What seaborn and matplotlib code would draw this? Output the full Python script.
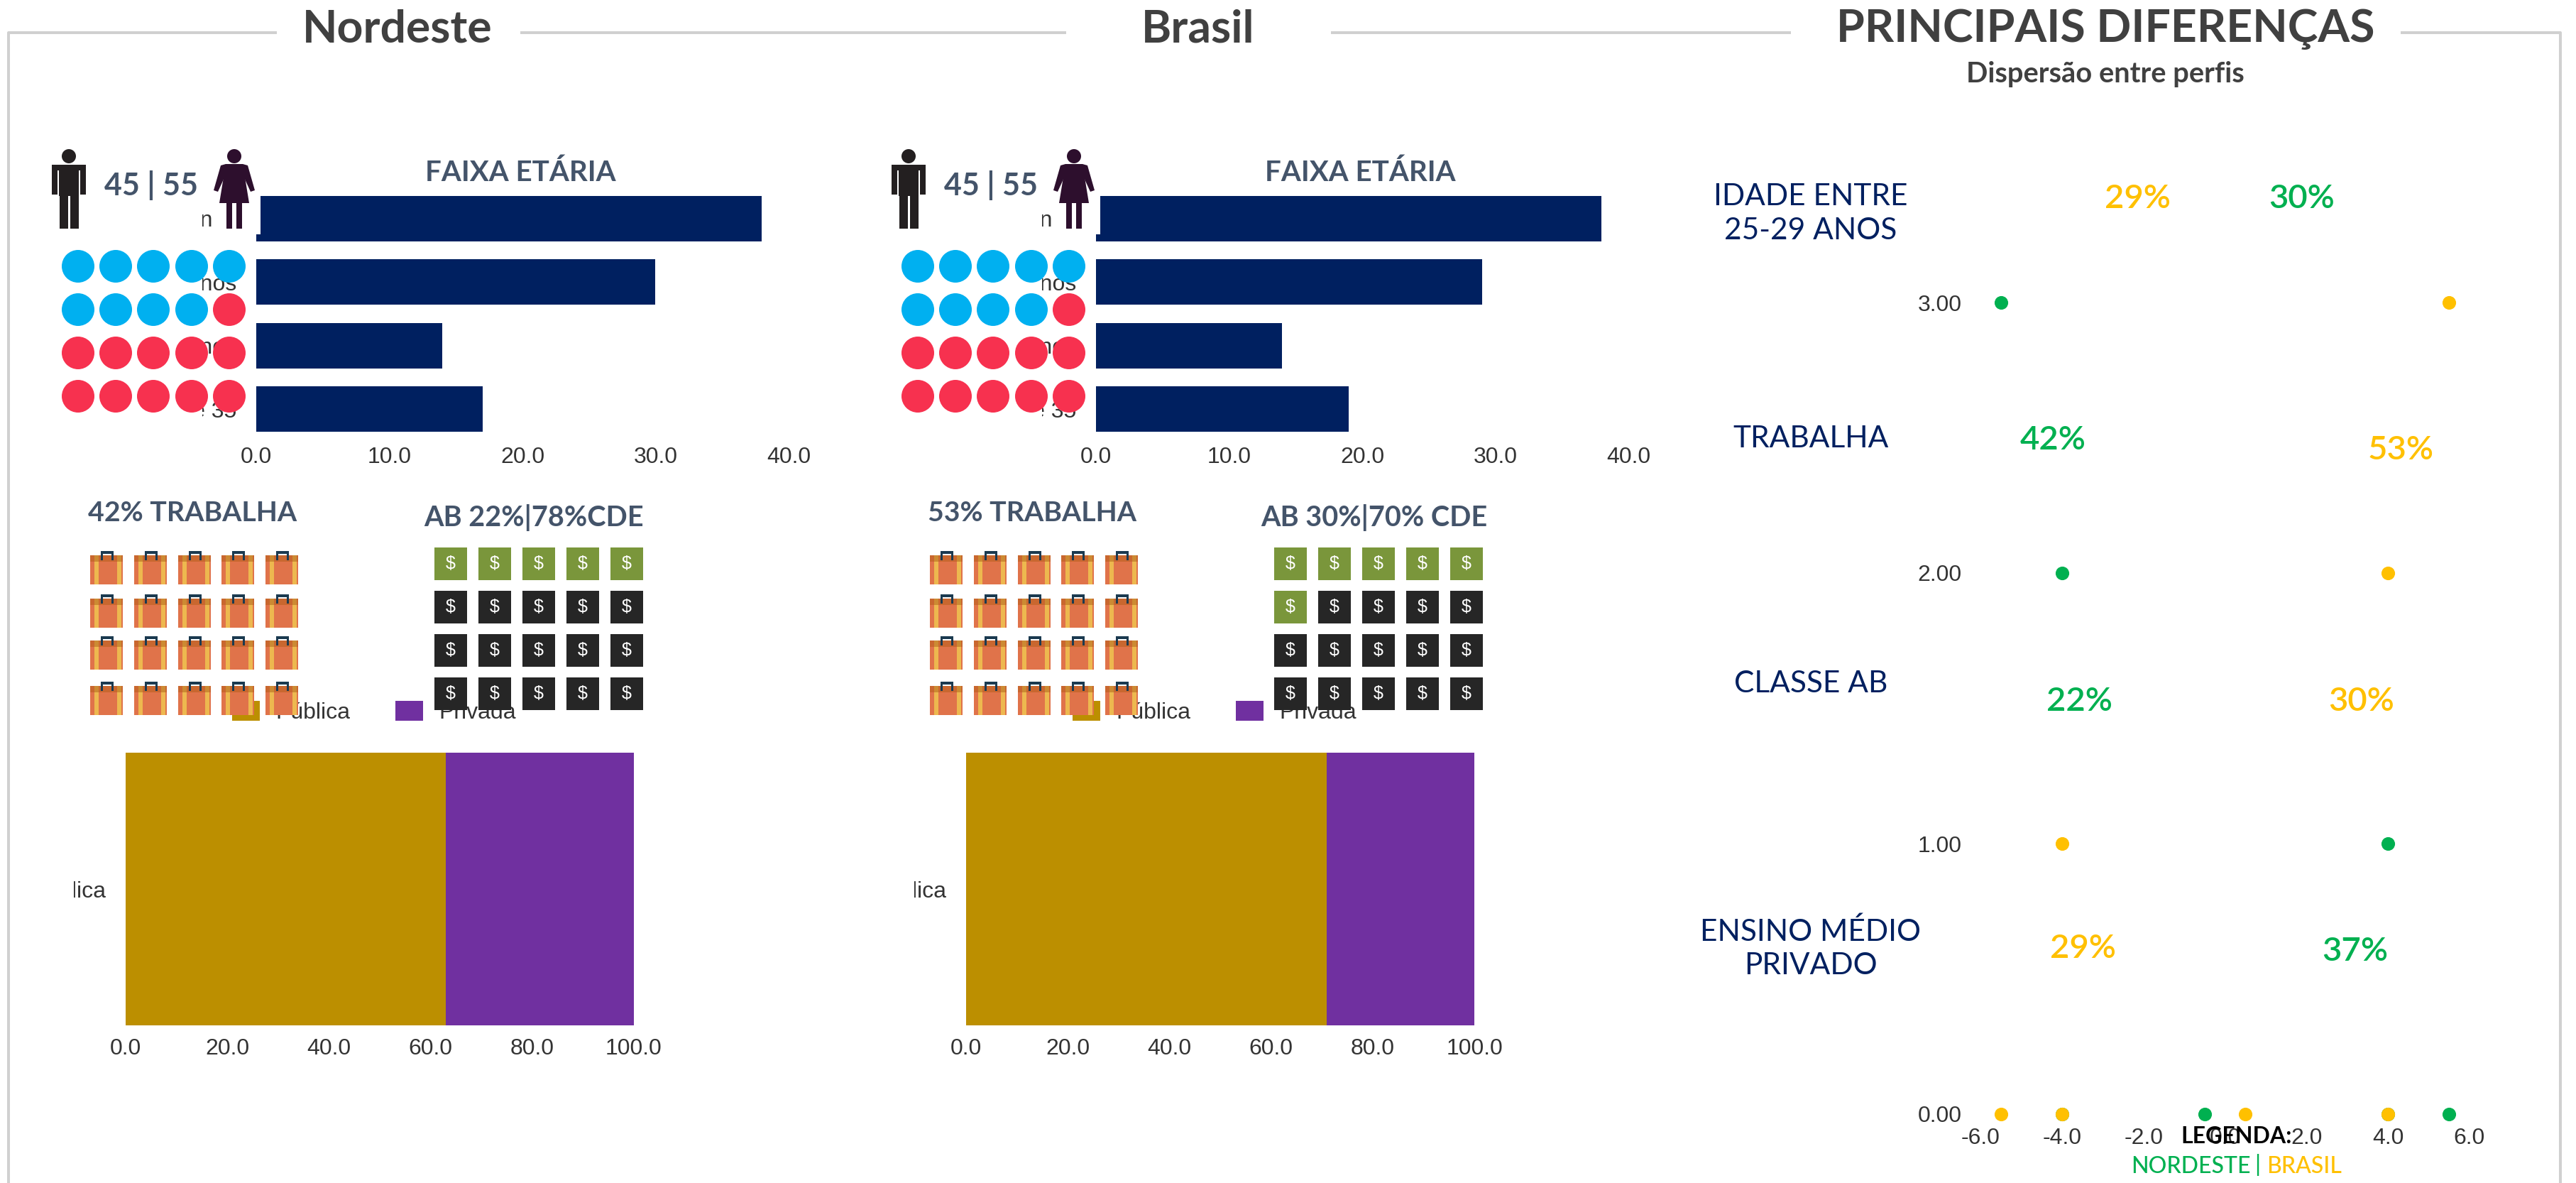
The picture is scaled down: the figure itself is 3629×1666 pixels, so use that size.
import matplotlib
matplotlib.use("Agg")
import matplotlib.pyplot as plt
import seaborn as sns
import pandas as pd
from matplotlib.patches import Circle, Rectangle, Polygon
from matplotlib.transforms import Bbox

W, H = 3630, 1666

# dados
faixas = ["18-24 anos", "25-29 anos", "30-35 anos", "Mais de 35"]
faixa_nordeste = [38, 30, 14, 17]
faixa_brasil = [38, 29, 14, 19]
escola_labels = ["Pública", "Privada"]
escola_nordeste = [63, 37]
escola_brasil = [71, 29]
homens_de_20 = 9
trabalha_de_20 = 20
ab_nordeste_de_20 = 5
ab_brasil_de_20 = 6

disp_y_nordeste = [3, 2, 1, 0, 0, 0, 0]
disp_x_nordeste = [-5.5, -4, 4, -4, -0.5, 4, 5.5]
disp_y_brasil = [3, 2, 1, 0, 0, 0, 0]
disp_x_brasil = [5.5, 4, -4, -5.5, -4, 0.5, 4]

NAVY = "#002060"
GOLD = "#BC8F00"
PURPLE = "#7030A0"
GREEN = "#00B050"
YELLOW = "#FFC000"
SLATE = "#44546A"
TITLE = "#404040"
TICK = "#333333"

sns.set_theme(style="white")
plt.rcParams["font.family"] = ["Liberation Sans", "DejaVu Sans"]

fig = plt.figure(figsize=(W / 100, H / 100), dpi=100, facecolor="white")


def px_axes(x0, y0, x1, y1, **kw):
    return fig.add_axes([x0 / W, 1 - y1 / H, (x1 - x0) / W, (y1 - y0) / H], **kw)


def clip_left(label, x_px):
    label.set_clip_on(True)
    label.set_clip_box(Bbox([[x_px, 0], [W, H]]))


def faixa_chart(dx, values):
    ax = px_axes(361 + dx, 263, 1111 + dx, 621)
    df = pd.DataFrame({"faixa": faixas, "pct": values})
    sns.barplot(data=df, y="faixa", x="pct", color=NAVY, saturation=1, width=0.72, linewidth=0, ax=ax)
    ax.set_xlim(0, 40)
    ax.set_ylim(3.5, -0.5)
    ax.set_xticks([0, 10, 20, 30, 40])
    ax.set_xticklabels(["0.0", "10.0", "20.0", "30.0", "40.0"])
    ax.set_xlabel("")
    ax.set_ylabel("")
    sns.despine(ax=ax, left=True, bottom=True)
    ax.tick_params(axis="both", length=0, labelsize=23, labelcolor=TICK)
    ax.tick_params(axis="x", pad=6)
    ax.tick_params(axis="y", pad=20)
    for lab in ax.get_yticklabels():
        clip_left(lab, 285 + dx)


def escola_chart(dx, values):
    ax = px_axes(177 + dx, 1060, 893 + dx, 1444)
    total = sum(values)
    sns.barplot(x=[total], y=[escola_labels[0]], color=PURPLE, saturation=1, width=1, linewidth=0, ax=ax, label=escola_labels[1])
    sns.barplot(x=[values[0]], y=[escola_labels[0]], color=GOLD, saturation=1, width=1, linewidth=0, ax=ax, label=escola_labels[0])
    ax.set_xlim(0, 100)
    ax.set_ylim(0.5, -0.5)
    ax.set_xticks([0, 20, 40, 60, 80, 100])
    ax.set_xticklabels(["0.0", "20.0", "40.0", "60.0", "80.0", "100.0"])
    ax.set_xlabel("")
    ax.set_ylabel("")
    sns.despine(ax=ax, left=True, bottom=True)
    ax.tick_params(axis="both", length=0, labelsize=23, labelcolor=TICK)
    ax.tick_params(axis="x", pad=13)
    ax.tick_params(axis="y", pad=20)
    for lab in ax.get_yticklabels():
        clip_left(lab, 104 + dx)
    handles, labels = ax.get_legend_handles_labels()
    ax.legend(handles[::-1], labels[::-1], ncol=2, frameon=False, fontsize=23,
              loc="center left", bbox_to_anchor=((327 - 177) / 716, 1 + 57 / 384),
              handlelength=1.22, handleheight=1.0, handletextpad=0.7, columnspacing=2.0,
              borderpad=0, borderaxespad=0, labelcolor=TICK)


faixa_chart(0, faixa_nordeste)
faixa_chart(1183, faixa_brasil)
escola_chart(0, escola_nordeste)
escola_chart(1184, escola_brasil)

# dispersao
ax = px_axes(2790, 426, 3479, 1569)
sns.scatterplot(x=disp_x_nordeste, y=disp_y_nordeste, color=GREEN, s=190, linewidth=0, ax=ax, clip_on=False)
sns.scatterplot(x=disp_x_brasil, y=disp_y_brasil, color=YELLOW, s=190, linewidth=0, ax=ax, clip_on=False)
ax.set_xlim(-6, 6)
ax.set_ylim(0, 3)
ax.set_xticks([-6, -4, -2, 0, 2, 4, 6])
ax.set_xticklabels(["-6.0", "-4.0", "-2.0", "0.0", "2.0", "4.0", "6.0"])
ax.set_yticks([0, 1, 2, 3])
ax.set_yticklabels(["0.00", "1.00", "2.00", "3.00"])
sns.despine(ax=ax, left=True, bottom=True)
ax.tick_params(axis="both", length=0, labelsize=23, labelcolor=TICK)
ax.tick_params(axis="x", pad=14)
ax.tick_params(axis="y", pad=19)

# camada de cima, em pixels
top = fig.add_axes([0, 0, 1, 1], zorder=10)
top.set_xlim(0, W)
top.set_ylim(H, 0)
top.axis("off")
top.patch.set_alpha(0)


def txt(x, y, s, size, color, weight="normal", **kw):
    top.text(x, y, s, fontsize=size, color=color, fontweight=weight, family=["Lato", "DejaVu Sans"],
             ha=kw.pop("ha", "center"), va=kw.pop("va", "center"), **kw)


def man(cx):
    c = "#231F20"
    top.add_patch(Circle((cx, 220), 10, color=c, lw=0))
    top.add_patch(Rectangle((cx - 24, 232), 48, 8, color=c, lw=0))
    top.add_patch(Rectangle((cx - 24, 234), 8, 40, color=c, lw=0))
    top.add_patch(Rectangle((cx + 16, 234), 8, 40, color=c, lw=0))
    top.add_patch(Rectangle((cx - 14, 234), 28, 42, color=c, lw=0))
    top.add_patch(Rectangle((cx - 13, 270), 12, 52, color=c, lw=0))
    top.add_patch(Rectangle((cx + 2, 270), 12, 52, color=c, lw=0))


def woman(cx):
    c = "#2D0F2D"
    top.add_patch(Rectangle((cx - 32, 205), 69, 125, color="white", lw=0))
    top.add_patch(Circle((cx, 220), 10, color=c, lw=0))
    top.add_patch(Polygon([(cx - 12, 231), (cx + 12, 231), (cx + 21, 286), (cx - 21, 286)], color=c, lw=0))
    top.add_patch(Polygon([(cx - 12, 231), (cx - 19, 233), (cx - 29, 268), (cx - 23, 270), (cx - 12, 246)], color=c, lw=0))
    top.add_patch(Polygon([(cx + 12, 231), (cx + 19, 233), (cx + 29, 268), (cx + 23, 270), (cx + 12, 246)], color=c, lw=0))
    top.add_patch(Rectangle((cx - 11, 286), 8, 36, color=c, lw=0))
    top.add_patch(Rectangle((cx + 3, 286), 8, 36, color=c, lw=0))


def pessoas(dx, homens):
    for r, y in enumerate([375, 436, 497, 558]):
        for c, x in enumerate([110, 163, 216, 270, 323]):
            cor = "#00B0F0" if r * 5 + c < homens else "#F7314F"
            top.add_patch(Circle((x + dx, y), 23, color=cor, lw=0))


def maleta(x, y):
    w = 46
    top.add_patch(Rectangle((x, y + 6), w, 41, color="#E0734A", lw=0))
    top.add_patch(Rectangle((x + 6, y + 6), 6, 41, color="#EDB84F", lw=0))
    top.add_patch(Rectangle((x + w - 8, y + 6), 6, 41, color="#EDB84F", lw=0))
    top.add_patch(Rectangle((x, y + 6), w, 9, color="#C9672F", lw=0))
    top.add_patch(Rectangle((x + 6, y + 6), 6, 9, color="#CC8A33", lw=0))
    top.add_patch(Rectangle((x + w - 8, y + 6), 6, 9, color="#CC8A33", lw=0))
    top.add_patch(Rectangle((x + 15, y), 18, 4, color="#1B3A50", lw=0))
    top.add_patch(Rectangle((x + 15, y), 3, 13, color="#1B3A50", lw=0))
    top.add_patch(Rectangle((x + 30, y), 3, 13, color="#1B3A50", lw=0))


def maletas(dx, n):
    for r, y in enumerate([776, 837, 896, 960]):
        for c, x in enumerate([127, 189, 251, 312, 374]):
            if r * 5 + c < n:
                maleta(x + dx, y)


def notas(dx, n):
    for r, y in enumerate([771, 832, 893, 954]):
        for c, x in enumerate([612, 674, 736, 798, 860]):
            cor = "#7A963B" if r * 5 + c < n else "#262626"
            top.add_patch(Rectangle((x + dx, y), 46, 46, color=cor, lw=0))
            top.text(x + dx + 23, y + 23, "$", color="white", fontsize=18, ha="center", va="center", family="Liberation Sans")


for dx, faixa_x, n_ab, trab, ab, ab_x in [(0, 733, ab_nordeste_de_20, "42% TRABALHA", "AB 22%|78%CDE", 752),
                                          (1183, 1916, ab_brasil_de_20, "53% TRABALHA", "AB 30%|70% CDE", 1936)]:
    man(97 + dx)
    woman(330 + dx)
    pessoas(dx, homens_de_20)
    maletas(dx, trabalha_de_20)
    notas(dx, n_ab)
    txt(faixa_x, 243, "FAIXA ETÁRIA", 29, SLATE, "bold")
    txt(213 + dx, 261, "45 | 55", 31, SLATE, "bold")
    txt(271 + dx, 722, trab, 28.3, SLATE, "bold")
    txt(ab_x, 729, ab, 28.5, SLATE, "bold")

# titulos e moldura
line = dict(color="#D0D0D0", lw=2.9, solid_capstyle="butt")
top.plot([12, 12, 390], [H, 46, 46], **line)
top.plot([733, 1502], [46, 46], **line)
top.plot([1875, 2523], [46, 46], **line)
top.plot([3382, 3607, 3607], [46, 46, H], **line)
txt(560, 41, "Nordeste", 46.4, TITLE, "bold")
txt(1688, 41, "Brasil", 46.4, TITLE, "bold")
txt(2966, 41, "PRINCIPAIS DIFERENÇAS", 46.4, TITLE, "bold")
txt(2966, 104, "Dispersão entre perfis", 28.7, TITLE, "bold")

# textos da dispersao
txt(2551, 301, "IDADE ENTRE\n25-29 ANOS", 30.5, NAVY, linespacing=1.3)
txt(2551, 618, "TRABALHA", 30.5, NAVY)
txt(2551, 963, "CLASSE AB", 30.5, NAVY)
txt(2551, 1336, "ENSINO MÉDIO\nPRIVADO", 30.5, NAVY, linespacing=1.3)
for x, y, s, cor in [(3012, 280, "29%", YELLOW), (3243, 280, "30%", GREEN),
                     (2892, 620, "42%", GREEN), (3382, 634, "53%", YELLOW),
                     (2930, 988, "22%", GREEN), (3327, 988, "30%", YELLOW),
                     (2935, 1336, "29%", YELLOW), (3318, 1340, "37%", GREEN)]:
    txt(x, y, s, 34, cor, "semibold")
txt(3151, 1601, "LEGENDA:", 23, "black", "bold")
txt(3086, 1643, "NORDESTE", 23, GREEN, "medium")
txt(3180, 1641, "|", 23, GREEN, "medium")
txt(3246, 1643, "BRASIL", 23, YELLOW, "medium")

fig.savefig("out.png", dpi=100)
